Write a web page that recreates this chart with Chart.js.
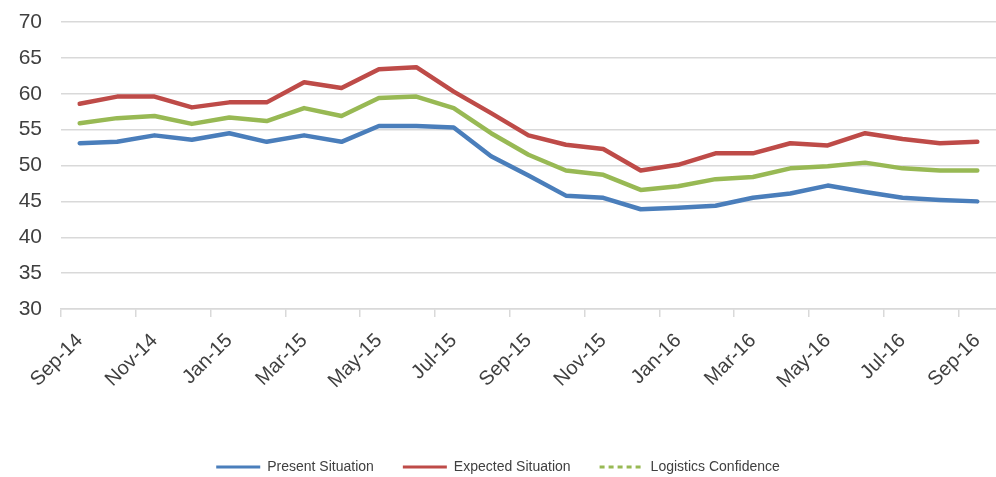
<!DOCTYPE html>
<html>
<head>
<meta charset="utf-8">
<script src="https://cdn.jsdelivr.net/npm/chart.js@4.4.1/dist/chart.umd.min.js"></script>
<style>
  html, body { margin: 0; padding: 0; background: #fff; }
  #wrap { width: 996px; height: 477px; position: relative; }
</style>
</head>
<body>
<div id="wrap"><canvas id="chart"></canvas></div>
<script>
// months, Sep-14 .. Sep-16
const months = ['Sep-14', 'Oct-14', 'Nov-14', 'Dec-14', 'Jan-15', 'Feb-15', 'Mar-15', 'Apr-15',
  'May-15', 'Jun-15', 'Jul-15', 'Aug-15', 'Sep-15', 'Oct-15', 'Nov-15', 'Dec-15',
  'Jan-16', 'Feb-16', 'Mar-16', 'Apr-16', 'May-16', 'Jun-16', 'Jul-16', 'Aug-16', 'Sep-16'];

const presentSituation = [53.1, 53.3, 54.2, 53.6, 54.5, 53.3, 54.2, 53.3, 55.5, 55.5, 55.3, 51.3,
  48.6, 45.8, 45.5, 43.9, 44.1, 44.4, 45.5, 46.1, 47.2, 46.3, 45.5, 45.2, 45.0];

const expectedSituation = [58.6, 59.6, 59.6, 58.1, 58.8, 58.8, 61.6, 60.8, 63.4, 63.7, 60.3, 57.3,
  54.2, 52.9, 52.3, 49.3, 50.1, 51.7, 51.7, 53.1, 52.8, 54.5, 53.7, 53.1, 53.3];

const logisticsConfidence = [55.9, 56.6, 56.9, 55.8, 56.7, 56.2, 58.0, 56.9, 59.4, 59.6, 58.0, 54.5,
  51.5, 49.3, 48.7, 46.6, 47.1, 48.1, 48.4, 49.6, 49.9, 50.4, 49.6, 49.3, 49.3];

const yTicks = [30, 35, 40, 45, 50, 55, 60, 65, 70];

const gridColor = '#d9d9d9';
const textColor = '#404040';

const ctx = document.getElementById('chart').getContext('2d');
new Chart(ctx, {
  type: 'line',
  data: {
    labels: months,
    datasets: [
      { label: 'Present Situation', data: presentSituation, borderColor: '#4a7ebb', backgroundColor: '#4a7ebb' },
      { label: 'Expected Situation', data: expectedSituation, borderColor: '#be4b48', backgroundColor: '#be4b48' },
      { label: 'Logistics Confidence', data: logisticsConfidence, borderColor: '#98b954', backgroundColor: '#98b954', legendDash: [5, 4] }
    ]
  },
  options: {
    responsive: true,
    maintainAspectRatio: false,
    animation: false,
    layout: { padding: { top: 22, left: 0, right: 0, bottom: 0 } },
    elements: {
      line: { borderWidth: 4.5, tension: 0, borderCapStyle: 'round', borderJoinStyle: 'round' },
      point: { radius: 0, hoverRadius: 0 }
    },
    plugins: {
      tooltip: { enabled: false },
      legend: {
        position: 'bottom',
        maxHeight: 46,
        labels: {
          color: textColor,
          font: { family: '"Liberation Sans", Arial, sans-serif', size: 14 },
          usePointStyle: true,
          pointStyle: 'line',
          pointStyleWidth: 44,
          padding: 29,
          generateLabels(chart) {
            return chart.data.datasets.map((ds, i) => ({
              text: ds.label,
              fillStyle: ds.borderColor,
              strokeStyle: ds.borderColor,
              lineWidth: 3,
              lineDash: ds.legendDash || [],
              pointStyle: 'line',
              hidden: false,
              datasetIndex: i,
              fontColor: textColor
            }));
          }
        }
      }
    },
    scales: {
      x: {
        offset: true,
        afterFit(scale) {
          scale.height = 122;
          scale.paddingLeft = 0;
          scale.paddingRight = 0;
        },
        grid: {
          offset: true,
          drawOnChartArea: false,
          drawTicks: true,
          tickLength: 8,
          lineWidth: 1.5,
          color: c => (c.index % 2 === 0 ? gridColor : 'rgba(0,0,0,0)')
        },
        border: { display: true, color: gridColor, width: 1.5 },
        ticks: {
          autoSkip: false,
          minRotation: 45,
          maxRotation: 45,
          padding: 12,
          color: textColor,
          font: { family: '"Liberation Sans", Arial, sans-serif', size: 20 },
          callback(value, index) { return index % 2 === 0 ? months[index] : ''; }
        }
      },
      y: {
        min: yTicks[0],
        max: yTicks[yTicks.length - 1],
        afterFit(scale) { scale.width = 61; },
        afterBuildTicks(scale) { scale.ticks = yTicks.map(v => ({ value: v })); },
        grid: { color: gridColor, lineWidth: 1.5, drawTicks: true, tickLength: 19, tickColor: 'rgba(0,0,0,0)' },
        border: { display: false },
        ticks: {
          padding: 0,
          color: textColor,
          font: { family: '"Liberation Sans", Arial, sans-serif', size: 21 }
        }
      }
    }
  }
});
</script>
</body>
</html>
